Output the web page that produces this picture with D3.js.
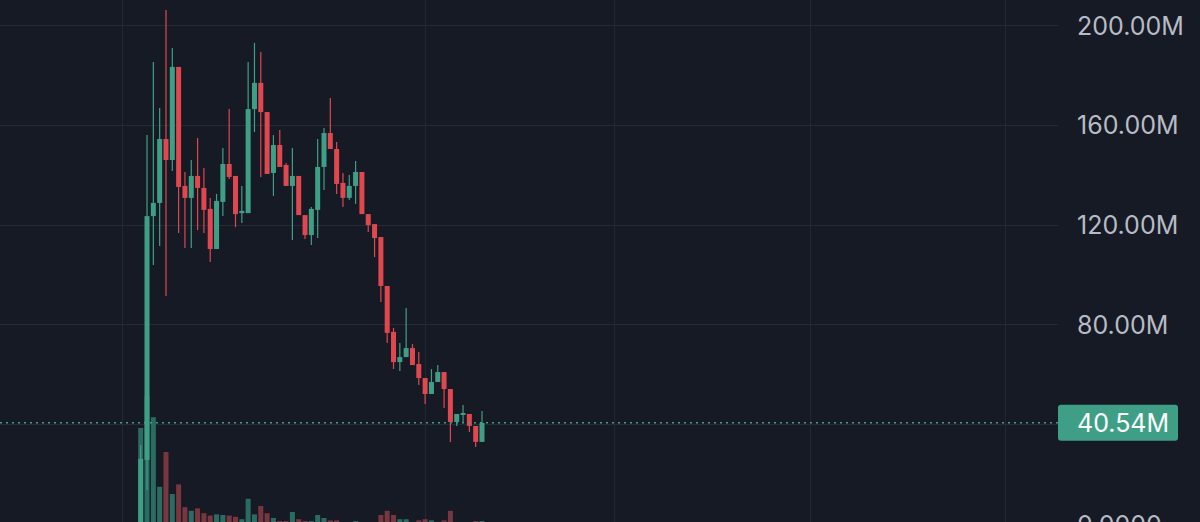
<!DOCTYPE html>
<html>
<head>
<meta charset="utf-8">
<script src="https://cdn.jsdelivr.net/npm/d3@7"></script>
<style>
  html, body { margin: 0; padding: 0; background: #161a25; overflow: hidden; }
  svg { display: block; }
</style>
</head>
<body>
<svg id="chart" width="1200" height="522"></svg>
<script>
// ---- data (values in millions) ----
const opens  = [0.5, 25.7, 123.4, 128.7, 154.3, 145.9, 183.2, 135.5, 130.7, 139.5, 134.7, 126.3, 110.2, 129.1, 144.3, 139.5, 124.6, 124.6, 166.3, 176.8, 165.1, 140.7, 151.9, 143.9, 135.5, 139.5, 123.8, 115.8, 125.9, 143.1, 156.7, 150.3, 136.7, 130.7, 135.5, 141.1, 124.2, 120.2, 115.0, 95.4, 77.0, 64.9, 66.9, 70.5, 64.1, 58.5, 52.1, 56.9, 60.9, 54.1, 40.9, 43.7, 44.1, 39.3, 32.9];
const highs  = [31.7, 155.9, 185.2, 166.7, 206.0, 190.8, 183.2, 141.1, 145.9, 154.7, 142.7, 130.7, 132.3, 150.7, 166.3, 139.5, 135.5, 185.2, 192.8, 189.2, 165.1, 155.9, 157.9, 144.7, 150.7, 139.5, 123.8, 127.1, 154.3, 158.7, 170.7, 153.1, 140.7, 139.9, 145.5, 141.1, 124.2, 120.2, 115.0, 95.4, 78.6, 72.5, 86.6, 72.1, 68.9, 58.5, 62.1, 63.7, 60.9, 54.1, 44.1, 47.7, 44.1, 39.3, 45.3];
const lows   = [0.3, 13.6, 103.8, 111.4, 91.4, 141.5, 116.6, 110.6, 110.6, 117.8, 116.6, 105.0, 110.2, 123.4, 138.3, 119.0, 120.6, 124.6, 157.1, 139.1, 140.3, 131.5, 143.1, 135.5, 113.8, 123.8, 114.2, 111.8, 114.6, 133.9, 150.3, 132.3, 127.1, 129.9, 128.3, 124.2, 117.0, 107.0, 89.0, 72.5, 62.1, 61.3, 66.9, 63.7, 55.7, 48.1, 52.1, 56.9, 46.5, 32.9, 39.3, 40.5, 36.9, 30.9, 32.9];
const closes = [26.1, 123.4, 128.7, 154.3, 145.9, 183.2, 135.1, 130.7, 139.5, 134.7, 125.9, 110.2, 129.5, 144.3, 139.1, 124.2, 125.5, 166.3, 176.8, 165.1, 140.3, 151.9, 143.1, 135.5, 139.5, 123.8, 115.8, 126.3, 143.1, 156.7, 150.3, 136.3, 130.7, 135.5, 141.1, 124.2, 119.8, 114.6, 95.4, 76.6, 64.9, 66.9, 70.5, 63.7, 58.5, 52.1, 56.9, 60.9, 54.1, 40.9, 44.1, 44.5, 39.3, 32.9, 40.54];
const volumes = [80, 107, 89, 31, 60, 25, 33, 14, 11, 13, 9, 7, 8, 7.5, 7, 6, 4, 21, 8, 15, 9, 5, 2.5, 2.5, 10, 4, 2.5, 2.5, 7.5, 5, 3, 3, 1.5, 1.5, 2.5, 1.5, 1.5, 1.5, 7.5, 11, 7.5, 4, 4, 1.5, 3, 4, 3, 1.5, 3, 11, 1.5, 1.5, 1.5, 2.5, 2.5];
const priceTicks = [0, 40, 80, 120, 160, 200];
const labelTicks = [0, 80, 120, 160, 200];
const timeGrid = [-2.9, 45.05, 74.85, 105.85, 136.75];   // vertical grid positions (bar index)
const lastPrice = 40.54;

// ---- layout ----
const W = 1200, H = 522, plotRight = 1058;
const GREEN = "#3f9f86", RED = "#e0474f";
const VGREEN = "#2b6c62", VRED = "#78363f";

const svg = d3.select("#chart");
svg.append("rect").attr("width", W).attr("height", H).attr("fill", "#161a25");

const n = closes.length;
const x = d3.scaleLinear().domain([0, n - 1]).range([140.7, 482]);
const y = d3.scaleLinear().domain([0, 200]).range([524, 25]);
const yv = d3.scaleLinear().domain([0, 100]).range([524, 404]);

const bars = d3.range(n).map(i => ({
  i, o: opens[i], h: highs[i], l: lows[i], c: closes[i], v: volumes[i], up: closes[i] >= opens[i]
}));

// grid
const grid = svg.append("g");
grid.selectAll("line.h").data(priceTicks).join("line")
  .attr("x1", 0).attr("x2", plotRight)
  .attr("y1", d => Math.round(y(d)) + 0.5).attr("y2", d => Math.round(y(d)) + 0.5)
  .attr("stroke", "#262a36").attr("stroke-width", 1);
grid.selectAll("line.v").data(timeGrid).join("line")
  .attr("x1", d => Math.round(x(d)) + 0.5).attr("x2", d => Math.round(x(d)) + 0.5)
  .attr("y1", 0).attr("y2", H)
  .attr("stroke", "#232734").attr("stroke-width", 1);

// volume
const bw = 5;
svg.append("g").selectAll("rect").data(bars).join("rect")
  .attr("x", d => x(d.i) - bw / 2)
  .attr("width", bw)
  .attr("y", d => yv(d.v))
  .attr("height", d => yv(0) - yv(d.v))
  .attr("fill", d => d.up ? VGREEN : VRED);

// candles
const cg = svg.append("g");
cg.selectAll("line").data(bars).join("line")
  .attr("x1", d => x(d.i)).attr("x2", d => x(d.i))
  .attr("y1", d => y(d.h)).attr("y2", d => y(d.l))
  .attr("stroke", d => d.up ? GREEN : RED).attr("stroke-width", 1.2);
cg.selectAll("rect").data(bars).join("rect")
  .attr("x", d => x(d.i) - bw / 2)
  .attr("width", bw)
  .attr("y", d => y(Math.max(d.o, d.c)))
  .attr("height", d => Math.max(1, Math.abs(y(d.o) - y(d.c))))
  .attr("fill", d => d.up ? GREEN : RED);

// price line
svg.append("line")
  .attr("x1", 0).attr("x2", plotRight)
  .attr("y1", y(lastPrice)).attr("y2", y(lastPrice))
  .attr("stroke", GREEN).attr("stroke-width", 1.5)
  .attr("stroke-dasharray", "2,4");

// right axis labels
const axis = d3.axisRight(y).tickValues(labelTicks).tickSize(0)
  .tickFormat(d => d === 0 ? "0.0000" : d.toFixed(2) + "M");
const ag = svg.append("g").attr("transform", `translate(${1077},0)`).call(axis);
ag.select(".domain").remove();
ag.selectAll("text")
  .attr("x", 0).attr("dy", "0.36em")
  .attr("fill", "#b8bbc4")
  .style("font-family", "Inter, 'Noto Sans', sans-serif")
  .style("font-size", "25px")
  .attr("text-anchor", "start");

// last price label
const py = y(lastPrice);
svg.append("rect")
  .attr("x", 1058).attr("y", py - 18).attr("width", 120).attr("height", 36)
  .attr("rx", 3).attr("fill", GREEN);
svg.append("text")
  .attr("x", 1077).attr("y", py).attr("dy", "0.36em")
  .attr("fill", "#ffffff")
  .style("font-family", "Inter, 'Noto Sans', sans-serif")
  .style("font-size", "25px")
  .text(d3.format(".2f")(lastPrice) + "M");
</script>
</body>
</html>
